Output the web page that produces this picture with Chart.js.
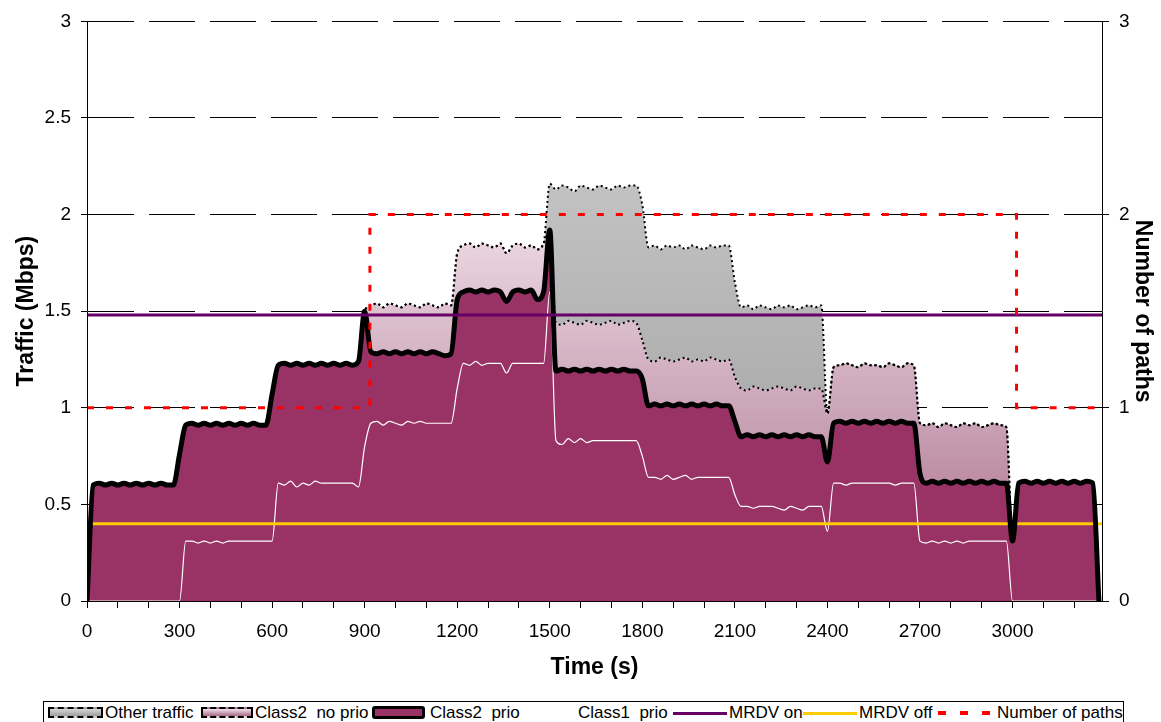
<!DOCTYPE html>
<html>
<head>
<meta charset="utf-8">
<script src="https://cdn.jsdelivr.net/npm/chart.js@4.4.1/dist/chart.umd.min.js"></script>
<style>
  html, body { margin: 0; padding: 0; background: #fff; }
  #wrap { position: relative; width: 1161px; height: 722px; overflow: hidden; }
  #c { position: absolute; left: 0; top: 0; }
  #legend { position: absolute; left: 43px; top: 701px; width: 1079px; height: 30px;
            border: 1px solid #000; background: #fff;
            font: 17px "Liberation Sans", Arial, sans-serif; color: #000; }
  #legend .txt { position: absolute; top: 0; height: 22px; line-height: 22px; white-space: pre; }
  #legend .sw { position: absolute; box-sizing: border-box; }
</style>
</head>
<body>
<div id="wrap">
  <canvas id="c" width="1161" height="722"></canvas>
  <div id="legend">
    <div class="sw" style="left:4px;top:5px;width:55px;height:11px;border:2px dashed #000;background:linear-gradient(to bottom,#d6d6d6,#9e9e9e);"></div>
    <div class="txt" style="left:61px;">Other traffic</div>
    <div class="sw" style="left:157px;top:5px;width:52px;height:11px;border:2px dashed #000;background:linear-gradient(to bottom,#f0e2e9,#a8698a);"></div>
    <div class="txt" style="left:211px;">Class2  no prio</div>
    <div class="sw" style="left:328px;top:4px;width:53px;height:13px;border:3px solid #000;border-radius:3px;background:#993366;"></div>
    <div class="txt" style="left:386px;">Class2  prio</div>
    <div class="txt" style="left:534px;">Class1  prio</div>
    <div class="sw" style="left:629px;top:10px;width:54px;height:3px;background:#660066;"></div>
    <div class="txt" style="left:685px;">MRDV on</div>
    <div class="sw" style="left:759px;top:10px;width:54px;height:3px;background:#ffcc00;"></div>
    <div class="txt" style="left:815px;">MRDV off</div>
    <div class="sw" style="left:894px;top:9px;width:8px;height:4px;background:#ff0000;"></div>
    <div class="sw" style="left:916px;top:9px;width:8px;height:4px;background:#ff0000;"></div>
    <div class="sw" style="left:938px;top:9px;width:8px;height:4px;background:#ff0000;"></div>
    <div class="txt" style="left:953px;">Number of paths</div>
  </div>
</div>
<script>
// Measured traffic, one sample every 20 s from t = 0 to t = 3280 s (Mbps).
const SAMPLE_STEP_S = 20;

// Class2 traffic with priority (top of the dark area)
const class2Prio = [
  0, 0.60, 0.61, 0.60, 0.61, 0.60, 0.61, 0.60, 0.61, 0.60, 0.61, 0.60, 0.61, 0.60, 0.60,
  0.76, 0.91, 0.92, 0.91, 0.92, 0.91, 0.92, 0.91, 0.92, 0.91, 0.92, 0.91, 0.92, 0.91, 0.91,
  1.07, 1.22, 1.23, 1.22, 1.23, 1.22, 1.23, 1.22, 1.23, 1.22, 1.23, 1.22, 1.23, 1.22, 1.24,
  1.50, 1.29, 1.28, 1.29, 1.28, 1.29, 1.28, 1.29, 1.28, 1.29, 1.28, 1.29, 1.28, 1.27, 1.28,
  1.56, 1.60, 1.61, 1.60, 1.61, 1.60, 1.61, 1.60, 1.55, 1.60, 1.61, 1.60, 1.61, 1.56, 1.60,
  1.92, 1.19, 1.20, 1.19, 1.20, 1.19, 1.20, 1.19, 1.20, 1.19, 1.20, 1.19, 1.20, 1.19, 1.19,
  1.15, 1.01, 1.02, 1.01, 1.02, 1.01, 1.02, 1.01, 1.02, 1.01, 1.02, 1.01, 1.02, 1.01, 1.01,
  0.93, 0.85, 0.86, 0.85, 0.86, 0.85, 0.86, 0.85, 0.86, 0.85, 0.86, 0.85, 0.86, 0.85, 0.85,
  0.72, 0.92, 0.93, 0.92, 0.93, 0.92, 0.93, 0.92, 0.93, 0.92, 0.93, 0.92, 0.93, 0.92, 0.92,
  0.66, 0.61, 0.62, 0.61, 0.62, 0.61, 0.62, 0.61, 0.62, 0.61, 0.62, 0.61, 0.62, 0.61, 0.61,
  0.31, 0.61, 0.62, 0.61, 0.62, 0.61, 0.62, 0.61, 0.62, 0.61, 0.62, 0.61, 0.62, 0.61, 0
];

// Class2 traffic without priority, cumulative on top of Class2 prio
const class2NoPrioTop = [
  0, 0.60, 0.61, 0.60, 0.61, 0.60, 0.61, 0.60, 0.61, 0.60, 0.61, 0.60, 0.61, 0.60, 0.60,
  0.76, 0.91, 0.92, 0.91, 0.92, 0.91, 0.92, 0.91, 0.92, 0.91, 0.92, 0.91, 0.92, 0.91, 0.91,
  1.07, 1.22, 1.23, 1.22, 1.23, 1.22, 1.23, 1.22, 1.23, 1.22, 1.23, 1.22, 1.23, 1.22, 1.24,
  1.50, 1.53, 1.54, 1.52, 1.54, 1.53, 1.52, 1.54, 1.53, 1.52, 1.54, 1.53, 1.52, 1.54, 1.53,
  1.80, 1.84, 1.85, 1.83, 1.85, 1.84, 1.83, 1.85, 1.80, 1.84, 1.85, 1.83, 1.84, 1.82, 1.85,
  1.92, 1.44, 1.43, 1.45, 1.44, 1.43, 1.45, 1.44, 1.43, 1.44, 1.45, 1.43, 1.44, 1.45, 1.44,
  1.35, 1.25, 1.24, 1.26, 1.25, 1.24, 1.25, 1.26, 1.24, 1.25, 1.24, 1.26, 1.25, 1.24, 1.25,
  1.16, 1.10, 1.09, 1.11, 1.10, 1.09, 1.10, 1.11, 1.10, 1.09, 1.11, 1.10, 1.09, 1.10, 1.10,
  0.97, 1.21, 1.22, 1.23, 1.22, 1.21, 1.23, 1.22, 1.22, 1.21, 1.23, 1.22, 1.21, 1.23, 1.22,
  0.92, 0.91, 0.92, 0.90, 0.92, 0.91, 0.90, 0.92, 0.91, 0.92, 0.90, 0.91, 0.92, 0.91, 0.90,
  0.31, 0.61, 0.62, 0.61, 0.62, 0.61, 0.62, 0.61, 0.62, 0.61, 0.62, 0.61, 0.62, 0.61, 0
];

// Other traffic, cumulative on top of Class2 no prio
const otherTrafficTop = [
  0, 0.60, 0.61, 0.60, 0.61, 0.60, 0.61, 0.60, 0.61, 0.60, 0.61, 0.60, 0.61, 0.60, 0.60,
  0.76, 0.91, 0.92, 0.91, 0.92, 0.91, 0.92, 0.91, 0.92, 0.91, 0.92, 0.91, 0.92, 0.91, 0.91,
  1.07, 1.22, 1.23, 1.22, 1.23, 1.22, 1.23, 1.22, 1.23, 1.22, 1.23, 1.22, 1.23, 1.22, 1.24,
  1.50, 1.53, 1.54, 1.52, 1.54, 1.53, 1.52, 1.54, 1.53, 1.52, 1.54, 1.53, 1.52, 1.54, 1.53,
  1.80, 1.84, 1.85, 1.83, 1.85, 1.84, 1.83, 1.85, 1.80, 1.84, 1.85, 1.83, 1.84, 1.82, 1.85,
  2.16, 2.13, 2.15, 2.14, 2.12, 2.15, 2.14, 2.13, 2.15, 2.14, 2.13, 2.15, 2.14, 2.15, 2.15,
  2.05, 1.83, 1.84, 1.82, 1.84, 1.83, 1.84, 1.82, 1.84, 1.83, 1.82, 1.84, 1.83, 1.84, 1.84,
  1.65, 1.52, 1.53, 1.51, 1.53, 1.52, 1.51, 1.53, 1.52, 1.53, 1.51, 1.52, 1.53, 1.52, 1.53,
  0.97, 1.21, 1.22, 1.23, 1.22, 1.21, 1.23, 1.22, 1.22, 1.21, 1.23, 1.22, 1.21, 1.23, 1.22,
  0.92, 0.91, 0.92, 0.90, 0.92, 0.91, 0.90, 0.92, 0.91, 0.92, 0.90, 0.91, 0.92, 0.91, 0.90,
  0.31, 0.61, 0.62, 0.61, 0.62, 0.61, 0.62, 0.61, 0.62, 0.61, 0.62, 0.61, 0.62, 0.61, 0
];

// Class1 traffic with priority (thin white line)
const class1Prio = [
  0, 0, 0, 0, 0, 0, 0, 0, 0, 0, 0, 0, 0, 0, 0,
  0, 0.31, 0.31, 0.30, 0.31, 0.30, 0.31, 0.30, 0.31, 0.31, 0.31, 0.31, 0.31, 0.31, 0.31,
  0.31, 0.61, 0.60, 0.62, 0.59, 0.61, 0.60, 0.62, 0.61, 0.61, 0.61, 0.61, 0.61, 0.61, 0.59,
  0.80, 0.92, 0.93, 0.91, 0.93, 0.92, 0.91, 0.93, 0.92, 0.93, 0.92, 0.92, 0.92, 0.92, 0.92,
  1.10, 1.23, 1.22, 1.24, 1.22, 1.23, 1.23, 1.23, 1.18, 1.23, 1.23, 1.23, 1.23, 1.23, 1.23,
  1.60, 0.83, 0.81, 0.84, 0.82, 0.84, 0.82, 0.83, 0.83, 0.83, 0.83, 0.83, 0.83, 0.83, 0.83,
  0.75, 0.64, 0.64, 0.63, 0.65, 0.63, 0.64, 0.65, 0.63, 0.64, 0.64, 0.64, 0.64, 0.64, 0.64,
  0.55, 0.49, 0.49, 0.48, 0.49, 0.49, 0.49, 0.48, 0.47, 0.49, 0.48, 0.47, 0.49, 0.49, 0.49,
  0.36, 0.61, 0.61, 0.60, 0.61, 0.61, 0.61, 0.61, 0.61, 0.61, 0.61, 0.60, 0.61, 0.61, 0.61,
  0.31, 0.30, 0.31, 0.30, 0.31, 0.30, 0.31, 0.30, 0.31, 0.31, 0.31, 0.31, 0.31, 0.31, 0.31,
  0, 0, 0, 0, 0, 0, 0, 0, 0, 0, 0, 0, 0, 0, 0
];

// MRDV thresholds (Mbps), constant over the whole run
const thresholdTimeS = [0, 3290];
const mrdvOn = [1.48, 1.48];
const mrdvOff = [0.40, 0.40];

// Number of paths in use (right axis), value holds until the next change
const pathTimeS = [0, 917, 3013, 3290];
const pathCount = [1, 2, 1, 1];

// Axis ticks: minor marks every 100 s, labels every 300 s
const timeTickMarksS = [0, 100, 200, 300, 400, 500, 600, 700, 800, 900, 1000, 1100, 1200, 1300,
  1400, 1500, 1600, 1700, 1800, 1900, 2000, 2100, 2200, 2300, 2400, 2500, 2600, 2700, 2800,
  2900, 3000, 3100, 3200];
const timeLabelEveryS = 300;

const timeS = class2Prio.map((_, i) => i * SAMPLE_STEP_S);
const xy = (xs, ys) => ys.map((y, i) => ({ x: xs[i], y }));

const FONT = '"Liberation Sans", Arial, sans-serif';
Chart.defaults.font.family = FONT;
Chart.defaults.color = '#000';

function vGradient(stops) {
  return (ctx) => {
    const { chart } = ctx;
    const a = chart.chartArea;
    if (!a) return 'rgba(0,0,0,0)';
    const g = chart.ctx.createLinearGradient(0, a.top, 0, a.bottom);
    stops.forEach(([p, c]) => g.addColorStop(p, c));
    return g;
  };
}

const lineBase = { pointRadius: 0, pointHoverRadius: 0, cubicInterpolationMode: 'monotone' };
const plainNumber = (v) => String(Math.round(v * 100) / 100);

new Chart(document.getElementById('c'), {
  type: 'line',
  data: {
    datasets: [
      { // 0
        label: 'Number of paths', yAxisID: 'y1',
        data: xy(pathTimeS, pathCount), stepped: true,
        borderColor: '#ff0000', borderWidth: 3, borderDash: [7, 12],
        pointRadius: 0, fill: false
      },
      { // 1
        label: 'MRDV on', data: xy(thresholdTimeS, mrdvOn),
        borderColor: '#660066', borderWidth: 3, pointRadius: 0, fill: false
      },
      { // 2
        label: 'Class2  prio', data: xy(timeS, class2Prio), ...lineBase,
        borderColor: '#000', borderWidth: 5, borderJoinStyle: 'round', borderCapStyle: 'round',
        backgroundColor: '#993366', fill: 'origin'
      },
      { // 3
        label: 'MRDV off', data: xy(thresholdTimeS, mrdvOff),
        borderColor: '#ffcc00', borderWidth: 3, pointRadius: 0, fill: false
      },
      { // 4
        label: 'Class1  prio', data: xy(timeS, class1Prio), ...lineBase,
        borderColor: '#ffffff', borderWidth: 1.2, fill: false
      },
      { // 5
        label: 'Class2  no prio', data: xy(timeS, class2NoPrioTop), ...lineBase,
        borderColor: '#000', borderWidth: 2, borderDash: [2, 3],
        backgroundColor: vGradient([[0, '#fbf4f7'], [0.35, '#ecd9e2'], [0.7, '#c8a0b4'], [1, '#a5637f']]),
        fill: 2
      },
      { // 6
        label: 'Other traffic', data: xy(timeS, otherTrafficTop), ...lineBase,
        borderColor: '#000', borderWidth: 2, borderDash: [2, 3],
        backgroundColor: vGradient([[0, '#d2d2d2'], [1, '#9a9a9a']]),
        fill: 5
      }
    ]
  },
  options: {
    responsive: false,
    animation: false,
    devicePixelRatio: 1,
    layout: { padding: { top: 20, left: 0, right: 0, bottom: 0 } },
    plugins: {
      legend: { display: false },
      tooltip: { enabled: false },
      filler: { drawTime: 'beforeDatasetsDraw' }
    },
    scales: {
      x: {
        type: 'linear', min: 0, max: 3290,
        afterFit: (s) => { s.height = 121; },
        afterBuildTicks: (s) => { s.ticks = timeTickMarksS.map((v) => ({ value: v })); },
        grid: { drawOnChartArea: false, drawTicks: true, tickLength: 7, color: '#000' },
        border: { display: true, color: '#000', width: 1, z: 1 },
        ticks: {
          autoSkip: false, maxRotation: 0, minRotation: 0,
          padding: 12, font: { size: 19 },
          callback: (v) => {
            const r = Math.round(v);
            return r % timeLabelEveryS === 0 ? String(r) : '';
          }
        },
        title: { display: true, text: 'Time (s)', font: { size: 23, weight: 'bold' }, padding: { top: 0, bottom: 41 } }
      },
      y: {
        position: 'left', min: 0, max: 3,
        afterFit: (s) => { s.width = 87; },
        grid: { color: '#000', lineWidth: 1, tickLength: 6 },
        border: { display: true, color: '#000', width: 1, dash: [46, 15], z: 1 },
        ticks: { stepSize: 0.5, padding: 10, font: { size: 19 }, callback: plainNumber },
        title: { display: true, text: 'Traffic (Mbps)', font: { size: 23, weight: 'bold' }, padding: { top: 13, bottom: 0 } }
      },
      y1: {
        position: 'right', min: 0, max: 3,
        afterFit: (s) => { s.width = 59; },
        grid: { drawOnChartArea: false, color: '#000', tickLength: 7 },
        border: { display: true, color: '#000', width: 1, z: 1 },
        ticks: { stepSize: 1, padding: 10, font: { size: 19 }, callback: plainNumber },
        title: { display: true, text: 'Number of paths', font: { size: 23, weight: 'bold' }, padding: { top: 5, bottom: 0 } }
      }
    }
  }
});
</script>
</body>
</html>
